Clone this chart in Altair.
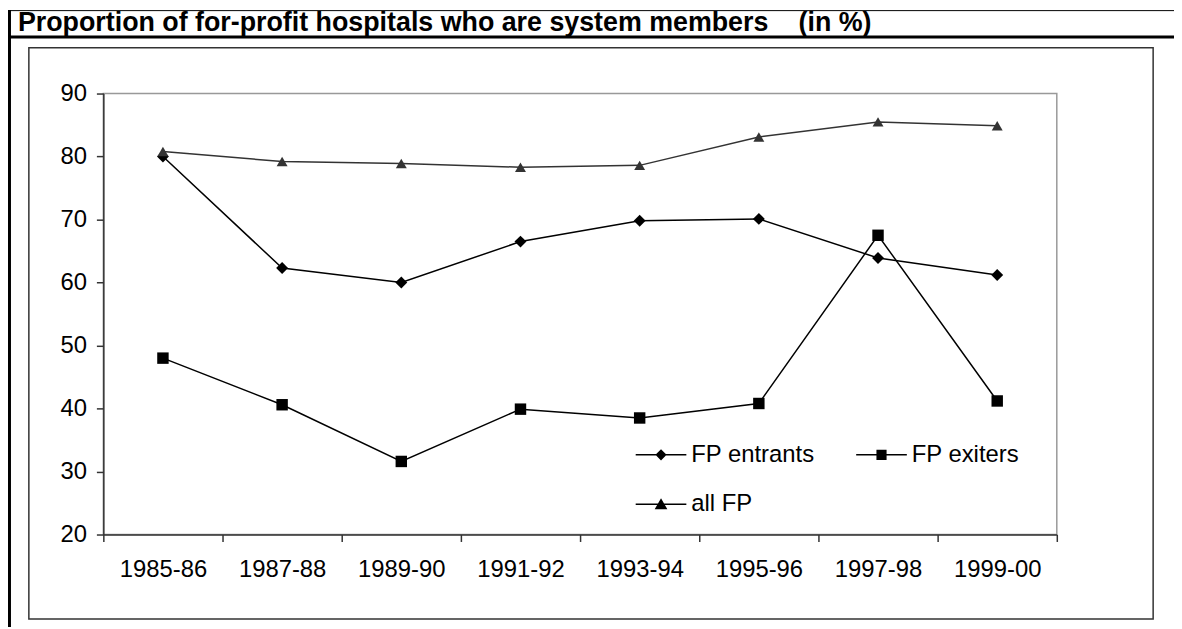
import altair as alt
import pandas as pd

periods = ["1985-86", "1987-88", "1989-90", "1991-92", "1993-94", "1995-96", "1997-98", "1999-00"]
fp_entrants = [80.0, 62.3, 60.0, 66.5, 69.8, 70.1, 63.9, 61.2]
fp_exiters = [48.0, 40.6, 31.6, 39.9, 38.5, 40.8, 67.5, 41.2]
all_fp = [80.8, 79.2, 78.9, 78.3, 78.6, 83.1, 85.5, 84.9]
series_names = ["FP entrants", "FP exiters", "all FP"]
legend_order = ["FP entrants", "all FP", "FP exiters"]
y_ticks = [20, 30, 40, 50, 60, 70, 80, 90]
title_main = "Proportion of for-profit hospitals who are system members"
title_unit = "(in %)"

rows = []
for name, vals in zip(series_names, [fp_entrants, fp_exiters, all_fp]):
    for p, v in zip(periods, vals):
        rows.append({"period": p, "value": v, "series": name})
df = pd.DataFrame(rows)

FONT = "Liberation Sans"
W, H = 960, 444
PL, PT = 96, 84
TOTAL_W, TOTAL_H = 1174, 621

line_colors = ["#000000", "#000000", "#333333"]
marker_shapes = ["diamond", "square", "triangle-up"]
marker_sizes = [144, 121, 169]
# legend symbols (thin bar + marker, both filled), in legend_order
BAR = "M-1,-0.03L1,-0.03L1,0.03L-1,0.03Z"
legend_paths = [
    BAR + "M-0.22,0L0,-0.22L0.22,0L0,0.22Z",
    BAR + "M0,-0.24L0.25,0.2L-0.25,0.2Z",
    BAR + "M-0.2,-0.2L0.2,-0.2L0.2,0.2L-0.2,0.2Z",
]

x_enc = alt.X(
    "period:N",
    sort=periods,
    bandPosition=0.5,
    scale=alt.Scale(type="band", domain=periods, paddingInner=0, paddingOuter=0),
    axis=alt.Axis(title=None, labelAngle=0, tickBand="extent", labelPadding=16),
)
y_enc = alt.Y(
    "value:Q",
    scale=alt.Scale(domain=[20, 90], nice=False, zero=False),
    axis=alt.Axis(title=None, values=y_ticks, grid=False, labelPadding=10),
)
color_enc = alt.Color("series:N", scale=alt.Scale(domain=series_names, range=line_colors), legend=None)

base = alt.Chart(df)

lines = base.mark_line(strokeWidth=1.5).encode(x=x_enc, y=y_enc, color=color_enc, detail="series:N")

points = base.mark_point(filled=True, opacity=1).encode(
    x=x_enc,
    y=y_enc,
    color=color_enc,
    shape=alt.Shape("series:N", scale=alt.Scale(domain=series_names, range=marker_shapes), legend=None),
    size=alt.Size("series:N", scale=alt.Scale(domain=series_names, range=marker_sizes), legend=None),
)

legend_layer = base.mark_point(
    filled=False, opacity=0, size=2601, fill="#000", stroke="#000", strokeWidth=0
).encode(
    x=x_enc,
    y=y_enc,
    shape=alt.Shape(
        "series:N",
        scale=alt.Scale(domain=legend_order, range=legend_paths),
        legend=alt.Legend(
            title=None,
            orient="none",
            legendX=536,
            legendY=338,
            columns=2,
            padding=0,
            labelFont=FONT,
            labelFontSize=24,
            labelColor="#000",
            labelOffset=5,
            columnPadding=41,
            rowPadding=12,
            symbolSize=2601,
            symbolStrokeWidth=0,
            symbolFillColor="#000",
            symbolOpacity=1,
        ),
    ),
)

one = pd.DataFrame({"k": [0]})

title_mark = alt.Chart(one).mark_text(
    text=title_main, font=FONT, fontSize=27, fontWeight="bold", align="left", baseline="alphabetic", color="#000"
).encode(x=alt.value(10 - PL), y=alt.value(21 - PT))
unit_mark = alt.Chart(one).mark_text(
    text=title_unit, font=FONT, fontSize=27, fontWeight="bold", align="left", baseline="alphabetic", color="#000"
).encode(x=alt.value(796 - PL), y=alt.value(21 - PT))

top_line = alt.Chart(one).mark_rule(color="#000", strokeWidth=1).encode(
    x=alt.value(0 - PL), x2=alt.value(TOTAL_W - PL), y=alt.value(0.5 - PT)
)
under_line = alt.Chart(one).mark_rule(color="#000", strokeWidth=3).encode(
    x=alt.value(0 - PL), x2=alt.value(TOTAL_W - PL), y=alt.value(27 - PT)
)
left_line = alt.Chart(one).mark_rule(color="#000", strokeWidth=3).encode(
    x=alt.value(1.5 - PL), y=alt.value(0 - PT), y2=alt.value(TOTAL_H - PT)
)
inner_box = alt.Chart(one).mark_rect(fillOpacity=0, stroke="#333", strokeWidth=1.5).encode(
    x=alt.value(21 - PL), x2=alt.value(1153 - PL), y=alt.value(38 - PT), y2=alt.value(613 - PT)
)

chart = (
    alt.layer(inner_box, top_line, under_line, left_line, title_mark, unit_mark, lines, points, legend_layer)
    .resolve_scale(shape="independent")
    .properties(
        width=W,
        height=H,
        background="white",
        autosize=alt.AutoSizeParams(type="none"),
        padding={"left": PL, "top": PT, "right": TOTAL_W - PL - W, "bottom": TOTAL_H - PT - H},
    )
    .configure_view(stroke="#999999", strokeWidth=1.5)
    .configure_axis(
        domainColor="#333333",
        domainWidth=1.5,
        tickColor="#333333",
        tickWidth=1.5,
        tickSize=7,
        labelFont=FONT,
        labelFontSize=24,
        labelColor="#000000",
    )
)

chart.save("out.html", embed_options={"renderer": "svg", "actions": False})
